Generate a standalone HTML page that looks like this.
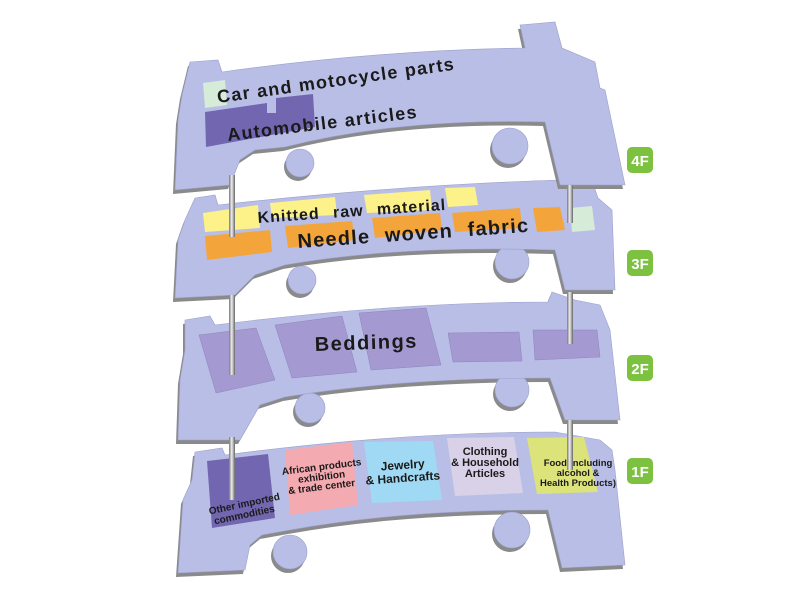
<!DOCTYPE html>
<html><head><meta charset="utf-8"><style>
html,body{margin:0;padding:0;background:#fff;}
svg{display:block;}
text{font-family:"Liberation Sans",Arial,sans-serif;font-weight:bold;fill:#1a1a1a;}
</style></head><body>
<svg width="800" height="600" viewBox="0 0 800 600" xmlns="http://www.w3.org/2000/svg">
<defs>
<linearGradient id="pole" x1="0" x2="1" y1="0" y2="0">
<stop offset="0" stop-color="#777"/><stop offset="0.45" stop-color="#eee"/><stop offset="1" stop-color="#666"/>
</linearGradient>
</defs>

<!-- 1F -->
<g>
<g transform="translate(-2,4)" fill="#8a8a8a">
<path d="M195,452 L222,448 L225,455 Q400,432 555,432 L600,440 L612,450 L615,470 L625,565 L562,568 L548,510 Q400,510 290,530 L262,535 L250,545 L245,570 L178,573 L183,500 L192,480 Z"/>
<circle cx="290" cy="552" r="17"/><circle cx="512" cy="530" r="18"/>
</g>
<g fill="#b9bee6" stroke="#9aa0cc" stroke-width="0.6">
<circle cx="290" cy="552" r="17"/><circle cx="512" cy="530" r="18"/>
<path d="M195,452 L222,448 L225,455 Q400,432 555,432 L600,440 L612,450 L615,470 L625,565 L562,568 L548,510 Q400,510 290,530 L262,535 L250,545 L245,570 L178,573 L183,500 L192,480 Z"/>
</g>
<polygon points="207,461 268,454 275,518 212,528" fill="#7266b0"/>
<polygon points="285,450 352,442 358,505 290,515" fill="#f3aab0"/>
<polygon points="364,442 433,441 442,500 372,503" fill="#a0d9f4"/>
<polygon points="447,438 514,437 523,493 455,496" fill="#d9d1e8"/>
<polygon points="527,438 584,437 598,492 537,494" fill="#dce37b"/>
<g font-size="10" text-anchor="middle">
<text x="245" y="507" transform="rotate(-12 245 507)">Other imported</text>
<text x="245" y="518" transform="rotate(-12 245 518)">commodities</text>
<text x="322" y="470" transform="rotate(-7 322 470)">African products</text>
<text x="322" y="480" transform="rotate(-7 322 480)">exhibition</text>
<text x="322" y="490" transform="rotate(-7 322 490)">&amp; trade center</text>
<text x="403" y="469" font-size="12" transform="rotate(-4 403 469)">Jewelry</text>
<text x="403" y="482" font-size="12" transform="rotate(-4 403 482)">&amp; Handcrafts</text>
<text x="485" y="455" font-size="11">Clothing</text>
<text x="485" y="466" font-size="11">&amp; Household</text>
<text x="485" y="477" font-size="11">Articles</text>
<text x="578" y="466" font-size="9.5">Food(including</text>
<text x="578" y="476" font-size="9.5">alcohol &amp;</text>
<text x="578" y="486" font-size="9.5">Health Products)</text>
</g>
</g>

<!-- 2F -->
<g>
<g transform="translate(-2,4)" fill="#8a8a8a">
<path d="M185,320 L210,316 L215,325 Q400,302 548,302 L552,292 L575,300 L600,305 L610,330 L620,420 L565,420 L550,378 Q400,378 285,397 L260,405 L240,440 L178,440 L180,380 L185,350 Z"/>
<circle cx="310" cy="408" r="15"/><circle cx="512" cy="390" r="17"/>
</g>
<g fill="#b9bee6" stroke="#9aa0cc" stroke-width="0.6">
<circle cx="310" cy="408" r="15"/><circle cx="512" cy="390" r="17"/>
<path d="M185,320 L210,316 L215,325 Q400,302 548,302 L552,292 L575,300 L600,305 L610,330 L620,420 L565,420 L550,378 Q400,378 285,397 L260,405 L240,440 L178,440 L180,380 L185,350 Z"/>
</g>
<g fill="#a49ad1" stroke="#8d84bb" stroke-width="0.5">
<polygon points="199,335 256,328 275,380 216,393"/>
<polygon points="275,325 342,316 357,372 292,378"/>
<polygon points="359,313 426,308 441,365 371,370"/>
<polygon points="448,333 519,332 522,361 453,362"/>
<polygon points="533,330 597,330 600,357 535,360"/>
</g>
<text x="315" y="351" font-size="20" letter-spacing="1.5" transform="rotate(-2 315 351)">Beddings</text>
</g>

<!-- 3F -->
<g>
<g transform="translate(-2,4)" fill="#8a8a8a">
<path d="M195,198 L215,195 L218,205 Q400,185 560,180 L565,165 L590,165 L590,175 L598,198 L612,210 L615,290 L565,290 L555,250 Q400,245 285,265 L255,275 L235,295 L175,298 L178,240 L185,220 Z"/>
<circle cx="302" cy="280" r="14"/><circle cx="512" cy="262" r="17"/>
</g>
<g fill="#b9bee6" stroke="#9aa0cc" stroke-width="0.6">
<circle cx="302" cy="280" r="14"/><circle cx="512" cy="262" r="17"/>
<path d="M195,198 L215,195 L218,205 Q400,185 560,180 L565,165 L590,165 L590,175 L598,198 L612,210 L615,290 L565,290 L555,250 Q400,245 285,265 L255,275 L235,295 L175,298 L178,240 L185,220 Z"/>
</g>
<g fill="#fdf28a">
<polygon points="203,213 258,205 260,228 205,232"/>
<polygon points="270,203 335,197 337,215 272,218"/>
<polygon points="364,195 430,190 432,210 367,213"/>
<polygon points="445,188 475,187 478,205 448,207"/>
</g>
<g fill="#f3a53b">
<polygon points="205,236 270,230 272,252 207,260"/>
<polygon points="285,226 352,221 355,240 288,248"/>
<polygon points="372,218 440,213 442,230 375,238"/>
<polygon points="452,213 520,208 522,228 455,232"/>
<polygon points="533,208 560,207 565,230 537,232"/>
</g>
<polygon points="570,208 592,206 595,230 572,232" fill="#d6ebd8"/>
<text x="258" y="223" font-size="16" letter-spacing="1" word-spacing="8" transform="rotate(-4 258 223)">Knitted raw material</text>
<text x="298" y="248" font-size="20" letter-spacing="1.2" word-spacing="8" transform="rotate(-4 298 248)">Needle woven fabric</text>
</g>

<!-- 4F -->
<g>
<g transform="translate(-2,4)" fill="#8a8a8a">
<path d="M190,62 L218,60 L222,72 Q380,50 525,48 L520,25 L555,22 L562,48 L595,62 L600,88 L605,90 L625,185 L560,185 L545,122 Q400,118 285,147 L255,150 L240,160 L230,185 L175,190 L178,120 L182,95 Z"/>
<circle cx="300" cy="163" r="14"/><circle cx="510" cy="146" r="18"/>
</g>
<g fill="#b9bee6" stroke="#9aa0cc" stroke-width="0.6">
<circle cx="300" cy="163" r="14"/><circle cx="510" cy="146" r="18"/>
<path d="M190,62 L218,60 L222,72 Q380,50 525,48 L520,25 L555,22 L562,48 L595,62 L600,88 L605,90 L625,185 L560,185 L545,122 Q400,118 285,147 L255,150 L240,160 L230,185 L175,190 L178,120 L182,95 Z"/>
</g>
<polygon points="203,83 225,80 227,105 205,108" fill="#d6ebd8"/>
<polygon points="205,112 267,103 267,113 276,113 276,98 313,94 315,127 206,147" fill="#7266b0"/>
<text x="218" y="103" font-size="18" letter-spacing="1.3" transform="rotate(-8 218 103)">Car and motocycle parts</text>
<text x="228" y="141" font-size="18" letter-spacing="1.3" transform="rotate(-7 228 141)">Automobile articles</text>
</g>

<!-- poles -->
<g fill="url(#pole)">
<rect x="229" y="175" width="6" height="62"/>
<rect x="229" y="295" width="6" height="80"/>
<rect x="229" y="437" width="6" height="63"/>
<rect x="567" y="185" width="6" height="38"/>
<rect x="567" y="292" width="6" height="52"/>
<rect x="567" y="420" width="6" height="50"/>
</g>

<!-- floor labels -->
<g font-size="15">
<rect x="627" y="147" width="26" height="26" rx="5" fill="#7cc13f"/><text x="640" y="166" text-anchor="middle" style="fill:#fff">4F</text>
<rect x="627" y="250" width="26" height="26" rx="5" fill="#7cc13f"/><text x="640" y="269" text-anchor="middle" style="fill:#fff">3F</text>
<rect x="627" y="355" width="26" height="26" rx="5" fill="#7cc13f"/><text x="640" y="374" text-anchor="middle" style="fill:#fff">2F</text>
<rect x="627" y="458" width="26" height="26" rx="5" fill="#7cc13f"/><text x="640" y="477" text-anchor="middle" style="fill:#fff">1F</text>
</g>
</svg>
</body></html>
